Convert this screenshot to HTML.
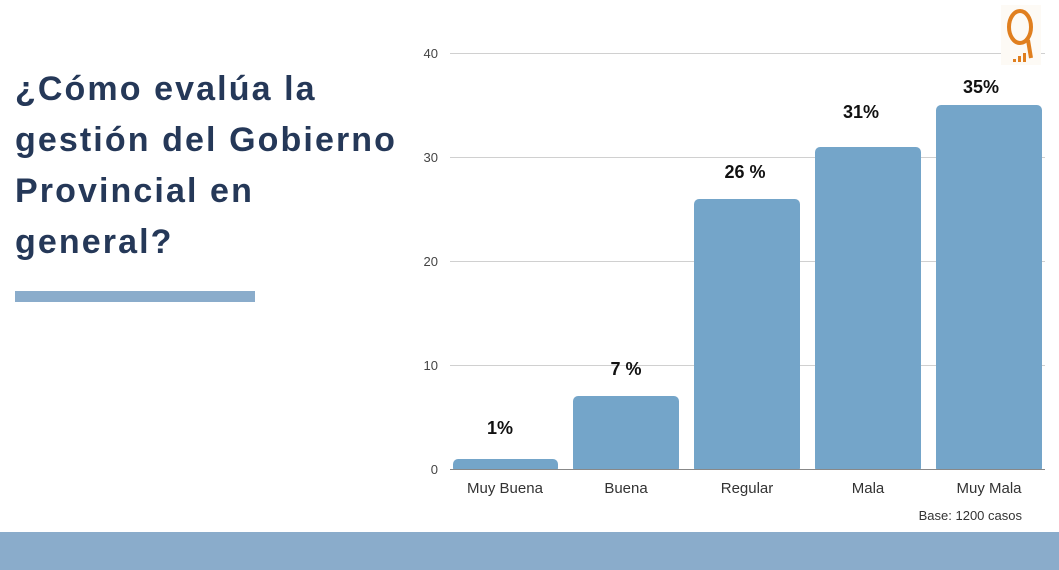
<!DOCTYPE html>
<html><head><meta charset="utf-8"><style>
body{margin:0;width:1059px;height:570px;background:#fff;position:relative;overflow:hidden;font-family:"Liberation Sans",sans-serif}
.t{position:absolute;left:15px;top:64px;font-size:34px;font-weight:bold;color:#253858;line-height:51px;letter-spacing:2.1px}
</style></head><body>
<div class="t">¿Cómo evalúa la<br>gestión del Gobierno<br>Provincial en<br>general?</div>
<div style="position:absolute;left:15px;top:291px;width:240px;height:11px;background:#8aaccb"></div>
<div style="position:absolute;left:0;top:532px;width:1059px;height:38px;background:#8aaccb"></div>
<svg width="1059" height="570" style="position:absolute;left:0;top:0" font-family="Liberation Sans, sans-serif">
<g stroke="#d0d0d0" stroke-width="1">
<line x1="450" x2="1045" y1="53.5" y2="53.5"/><line x1="450" x2="1045" y1="157.5" y2="157.5"/><line x1="450" x2="1045" y1="261.5" y2="261.5"/><line x1="450" x2="1045" y1="365.5" y2="365.5"/>
</g>
<g font-size="13" fill="#444" text-anchor="end">
<text x="438" y="58">40</text><text x="438" y="162">30</text><text x="438" y="266">20</text><text x="438" y="370">10</text><text x="438" y="474">0</text></g>
<g fill="#74a5c9">
<rect x="453" y="459" width="105" height="14" rx="5"/>
<rect x="573" y="396" width="106" height="77" rx="5"/>
<rect x="694" y="199" width="106" height="274" rx="5"/>
<rect x="815" y="147" width="106" height="326" rx="5"/>
<rect x="936" y="105" width="106" height="368" rx="5"/>
</g>
<rect x="450" y="470" width="600" height="5" fill="#fff"/>
<line x1="450" x2="1045" y1="469.5" y2="469.5" stroke="#888"/>
<g font-size="18" font-weight="bold" fill="#111" text-anchor="middle">
<text x="500" y="434">1%</text><text x="626" y="375">7 %</text><text x="745" y="178">26 %</text><text x="861" y="118">31%</text><text x="981" y="93">35%</text></g>
<g font-size="15" fill="#333" text-anchor="middle">
<text x="505" y="493">Muy Buena</text><text x="626" y="493">Buena</text><text x="747" y="493">Regular</text><text x="868" y="493">Mala</text><text x="989" y="493">Muy Mala</text></g>
<text x="1022" y="520" font-size="13" fill="#333" text-anchor="end">Base:  1200 casos</text>
<g>
<rect x="1001" y="5" width="40" height="60" fill="#fdfaf5"/>
<ellipse cx="1020" cy="27" rx="11" ry="16" fill="none" stroke="#e07f1f" stroke-width="4"/>
<path d="M1028 40 L1031 58" stroke="#e07f1f" stroke-width="4"/>
<rect x="1013" y="59" width="3" height="3" fill="#e07f1f"/><rect x="1018" y="56" width="3" height="6" fill="#e07f1f"/><rect x="1023" y="53" width="3" height="9" fill="#e07f1f"/>
</g>
</svg>
</body></html>
